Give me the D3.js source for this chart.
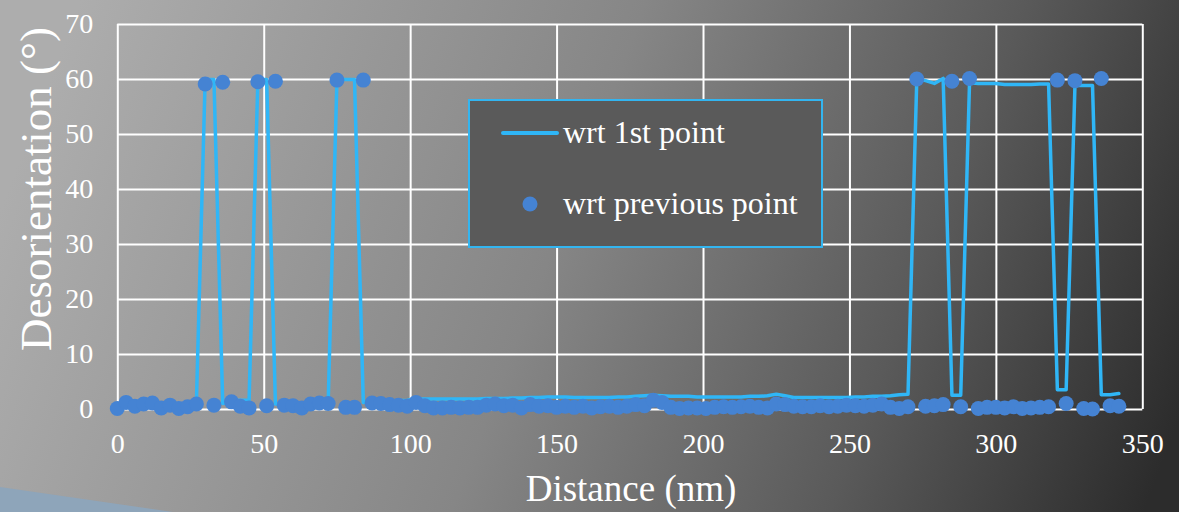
<!DOCTYPE html>
<html>
<head>
<meta charset="utf-8">
<script src="https://cdn.jsdelivr.net/npm/d3@7"></script>
<style>
  html, body { margin: 0; padding: 0; background: #2a2a2a; }
  svg { display: block; }
  svg text { font-family: "Liberation Serif", "Times New Roman", serif; }
</style>
</head>
<body>
<svg id="chart" width="1179" height="512"></svg>
<script>
// ---- DATA ----
const distance = [0,3,6,9,12,15,18,21,24,27,30,33,36,39,42,45,48,51,54,57,60,63,66,69,72,75,78,81,84,87,90,93,96,99,
  102,105,108,111,114,117,120,123,126,129,132,135,138,141,144,147,150,153,156,159,162,165,168,171,174,177,180,183,186,189,192,195,198,
  201,204,207,210,213,216,219,222,225,228,231,234,237,240,243,246,249,252,255,258,261,264,267,270,273,276,279,282,285,288,291,294,297,
  300,303,306,309,312,315,318,321,324,327,330,333,336,339,342];

const wrtFirst = [0.0,0.9,0.6,0.8,1.0,0.6,0.8,0.5,0.7,0.9,59.9,59.9,1.0,1.5,1.6,1.6,59.9,59.9,0.9,0.8,0.8,0.7,1.0,1.2,1.1,59.9,59.9,59.9,1.2,1.3,1.4,1.5,1.5,1.6,
  1.8,1.8,1.8,1.8,1.8,1.8,1.8,1.8,1.9,1.9,1.9,2.0,2.0,2.1,2.1,2.2,2.2,2.2,2.1,2.1,2.1,2.1,2.1,2.2,2.2,2.3,2.4,2.5,2.4,2.3,2.3,2.3,2.2,
  2.2,2.2,2.2,2.2,2.2,2.3,2.3,2.4,2.7,2.4,2.1,2.1,2.1,2.1,2.1,2.1,2.1,2.2,2.2,2.3,2.3,2.4,2.6,2.7,60.0,59.7,59.2,60.1,2.5,2.5,59.3,59.2,59.2,
  59.2,59.0,59.0,59.0,59.0,59.1,59.1,3.5,3.5,58.8,58.8,58.8,2.6,2.6,2.8];

const wrtPrevious = [0.1,1.2,0.5,0.9,1.1,0.2,0.7,0.1,0.4,0.9,59.1,0.7,59.4,1.3,0.5,0.2,59.5,0.6,59.6,0.7,0.6,0.2,0.9,1.1,1.0,59.8,0.3,0.3,59.8,1.1,1.0,0.8,0.7,0.5,
  1.2,0.6,0.2,0.2,0.3,0.2,0.3,0.3,0.7,0.9,0.6,0.7,0.2,0.8,0.5,0.6,0.3,0.5,0.3,0.5,0.2,0.4,0.5,0.3,0.5,0.8,0.6,1.6,1.2,0.3,0.1,0.2,0.2,
  0.1,0.3,0.4,0.3,0.4,0.5,0.3,0.2,0.9,0.8,0.5,0.4,0.4,0.6,0.4,0.5,0.7,0.6,0.5,0.7,0.9,0.3,0.1,0.4,60.0,0.5,0.6,0.8,59.6,0.4,60.1,0.1,0.3,
  0.3,0.2,0.4,0.1,0.2,0.3,0.4,59.8,1.0,59.7,0.1,0.0,60.1,0.6,0.5];

const seriesNames = ["wrt 1st point", "wrt previous point"];
const xTicks = [0,50,100,150,200,250,300,350];
const yTicks = [0,10,20,30,40,50,60,70];
const xTitle = "Distance (nm)";
const yTitle = "Desorientation (°)";

// ---- DRAW ----
(function () {
const svg = d3.select("#chart");
const W = 1179, H = 512;
const pL = 117.3, pR = 1142.3, pT = 24, pB = 409;
const font = "Liberation Serif, Times New Roman, serif";
const lineColor = "#2fb6f7";
const dotColor = "#4583d3";

const defs = svg.append("defs");
const grad = defs.append("linearGradient").attr("id", "bg")
  .attr("gradientUnits", "userSpaceOnUse")
  .attr("x1", 80).attr("y1", 0).attr("x2", 1179).attr("y2", 420);
grad.append("stop").attr("offset", 0).attr("stop-color", "#adadad");
grad.append("stop").attr("offset", 0.45).attr("stop-color", "#868686");
grad.append("stop").attr("offset", 0.75).attr("stop-color", "#5a5a5a");
grad.append("stop").attr("offset", 1).attr("stop-color", "#2c2c2c");

svg.append("rect").attr("width", W).attr("height", H).attr("fill", "url(#bg)");
svg.append("path").attr("d", `M0,487 L173,${H} L0,${H} Z`).attr("fill", "#8ea5ba");

const x = d3.scaleLinear().domain([0, 350]).range([pL, pR]);
const y = d3.scaleLinear().domain([0, 70]).range([pB, pT]);

const yAxis = svg.append("g").attr("transform", `translate(${pL},0)`)
  .call(d3.axisLeft(y).tickValues(yTicks).tickSize(-(pR - pL)).tickPadding(24).tickFormat(d3.format("d")));
const xAxis = svg.append("g").attr("transform", `translate(0,${pB})`)
  .call(d3.axisBottom(x).tickValues(xTicks).tickSize(-(pB - pT)).tickPadding(24).tickFormat(d3.format("d")));
[yAxis, xAxis].forEach(g => {
  g.attr("font-family", font).attr("font-size", 28);
  g.select(".domain").remove();
  g.selectAll(".tick line").attr("stroke", "#ffffff").attr("stroke-width", 2);
  g.selectAll(".tick text").attr("fill", "#ffffff").style("font-family", font).style("font-size", "28px");
});

const pts = distance.map((d, i) => ({d, a: wrtFirst[i], b: wrtPrevious[i]}));
svg.append("path").datum(pts)
  .attr("fill", "none").attr("stroke", lineColor).attr("stroke-width", 3.5)
  .attr("stroke-linejoin", "round").attr("stroke-linecap", "round")
  .attr("d", d3.line().x(p => x(p.d)).y(p => y(p.a)));

svg.append("g").selectAll("circle").data(pts).join("circle")
  .attr("cx", p => x(p.d)).attr("cy", p => y(p.b)).attr("r", 7.5).attr("fill", dotColor);

svg.append("text").attr("x", 631).attr("y", 501).attr("text-anchor", "middle")
  .attr("fill", "#ffffff").style("font-size", "37px").text(xTitle);
svg.append("text").attr("transform", "translate(51,189) rotate(-90)").attr("text-anchor", "middle")
  .attr("fill", "#ffffff").style("font-size", "45px").text(yTitle);

const lg = svg.append("g");
lg.append("rect").attr("x", 469).attr("y", 100).attr("width", 353).attr("height", 147)
  .attr("fill", "#5a5a5a").attr("stroke", "#33b5f0").attr("stroke-width", 2);
lg.append("line").attr("x1", 503).attr("x2", 557).attr("y1", 133).attr("y2", 133)
  .attr("stroke", lineColor).attr("stroke-width", 4).attr("stroke-linecap", "round");
lg.append("circle").attr("cx", 530).attr("cy", 204).attr("r", 7.5).attr("fill", dotColor);
lg.append("text").attr("x", 563).attr("y", 143).attr("fill", "#ffffff")
  .style("font-size", "32px").text(seriesNames[0]);
lg.append("text").attr("x", 563).attr("y", 214).attr("fill", "#ffffff")
  .style("font-size", "32px").text(seriesNames[1]);
})();
</script>
</body>
</html>
